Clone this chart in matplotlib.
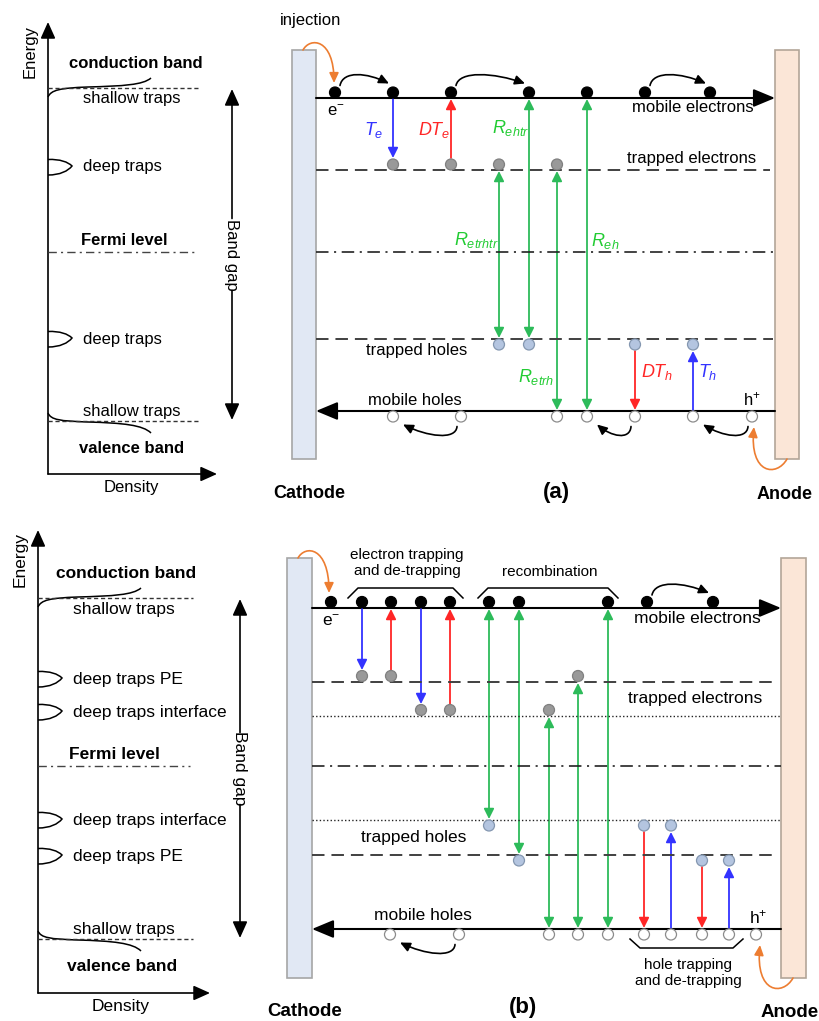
import matplotlib.pyplot as plt
from matplotlib.patches import Rectangle, Circle, FancyArrowPatch, PathPatch
from matplotlib.path import Path

plt.rcParams['font.family'] = ['Liberation Sans', 'DejaVu Sans']
plt.rcParams['mathtext.fontset'] = 'custom'
plt.rcParams['mathtext.rm'] = 'Liberation Sans'
plt.rcParams['mathtext.it'] = 'Liberation Sans:italic'
plt.rcParams['lines.scale_dashes'] = False

BLUE = '#3333ff'
RED = '#ff2626'
GREEN = '#2dbb5a'
GREEN_TXT = '#22cc33'
ORANGE = '#ed7d31'
R = 5.5  # particle radius (px)

# ---------------- panel (a) data ----------------
a_dos = dict(ax0=48, top=22, bottom=474, right=217, cb=88, vb=421, fermi=252,
             line_end=198, gap_x=232, fs=12,
             deep=[(167, 'deep traps'), (339, 'deep traps')])
a_levels = {'cb': 98, 'te': 170, 'fermi': 252, 'th': 339, 'vb': 411}
a_sides = {'cb': 'above', 'te': 'above', 'th': 'below', 'vb': 'below'}
a_electrons = [335, 393, 451, 529, 587, 645, 710]
a_trapped_e = [393, 451, 499, 557]
a_trapped_h = [499, 529, 635, 693]
a_holes = [393, 461, 557, 587, 635, 693, 752]
a_e_hops = [(335, 393), (451, 529), (645, 710)]
a_h_hops = [(461, 393), (635, 587), (752, 693)]
# x, from level, to level, colour, both heads
a_transitions = [
    (393, 'cb', 'te', BLUE, False),
    (451, 'te', 'cb', RED, False),
    (499, 'te', 'th', GREEN, True),
    (529, 'cb', 'th', GREEN, True),
    (557, 'te', 'vb', GREEN, True),
    (587, 'cb', 'vb', GREEN, True),
    (635, 'th', 'vb', RED, False),
    (693, 'vb', 'th', BLUE, False),
]
a_rate_labels = [
    (r'$T_{e}$', 374, 130, BLUE), (r'$DT_{e}$', 434, 130, RED),
    (r'$R_{ehtr}$', 511, 128, GREEN_TXT), (r'$R_{etrhtr}$', 476, 240, GREEN_TXT),
    (r'$R_{eh}$', 605, 241, GREEN_TXT), (r'$R_{etrh}$', 536, 377, GREEN_TXT),
    (r'$DT_{h}$', 657, 372, RED), (r'$T_{h}$', 708, 372, BLUE),
]
a_dev = dict(cath=(292, 316), anode=(775, 799), top=50, bottom=459)

# ---------------- panel (b) data ----------------
b_dos = dict(ax0=38, top=530, bottom=993, right=210, cb=598, vb=939, fermi=766,
             line_end=193, gap_x=240, fs=12.5,
             deep=[(679, 'deep traps PE'), (712, 'deep traps interface'),
                   (820, 'deep traps interface'), (856, 'deep traps PE')])
b_levels = {'cb': 608, 'te_pe': 682, 'te_if': 716, 'fermi': 766,
            'th_if': 820, 'th_pe': 855, 'vb': 929}
b_sides = {'cb': 'above', 'te_pe': 'above', 'te_if': 'above',
           'th_if': 'below', 'th_pe': 'below', 'vb': 'below'}
b_electrons = [331, 362, 391, 421, 450, 489, 519, 608, 647, 713]
b_trapped_e_pe = [362, 391, 578]
b_trapped_e_if = [421, 450, 549]
b_trapped_h_if = [489, 644, 671]
b_trapped_h_pe = [519, 702, 729]
b_holes = [390, 459, 549, 578, 608, 644, 671, 702, 729, 756]
b_e_hops = [(647, 713)]
b_h_hops = [(459, 390)]
b_transitions = [
    (362, 'cb', 'te_pe', BLUE, False),
    (391, 'te_pe', 'cb', RED, False),
    (421, 'cb', 'te_if', BLUE, False),
    (450, 'te_if', 'cb', RED, False),
    (489, 'cb', 'th_if', GREEN, True),
    (519, 'cb', 'th_pe', GREEN, True),
    (549, 'te_if', 'vb', GREEN, True),
    (578, 'te_pe', 'vb', GREEN, True),
    (608, 'cb', 'vb', GREEN, True),
    (644, 'th_if', 'vb', RED, False),
    (671, 'vb', 'th_if', BLUE, False),
    (702, 'th_pe', 'vb', RED, False),
    (729, 'vb', 'th_pe', BLUE, False),
]
# left, right, side, label, label x, label y
b_brackets = [
    (348, 463, 'top', 'electron trapping\nand de-trapping', 407, 563),
    (478, 618, 'top', 'recombination', 550, 572),
    (630, 743, 'bottom', 'hole trapping\nand de-trapping', 688, 973),
]
b_dev = dict(cath=(287, 312), anode=(781, 806), top=558, bottom=978)

fig = plt.figure(figsize=(8.19, 10.21), dpi=100)
ax = fig.add_axes([0, 0, 1, 1])
ax.set_xlim(0, 819)
ax.set_ylim(1021, 0)
ax.axis('off')


def arrow(p0, p1, color='black', lw=1.2, both=False, hl=0.6, hw=0.3, ms=10):
    style = ('<|-|>' if both else '-|>') + f',head_length={hl},head_width={hw}'
    ax.add_patch(FancyArrowPatch(p0, p1, arrowstyle=style, mutation_scale=ms,
                                 color=color, lw=lw, shrinkA=0, shrinkB=0))


def curve_arrow(pts, color='black', lw=1.2):
    path = Path(pts, [Path.MOVETO, Path.CURVE4, Path.CURVE4, Path.CURVE4])
    ax.add_patch(FancyArrowPatch(path=path, arrowstyle='-|>,head_length=0.6,head_width=0.28',
                                 mutation_scale=10, color=color, lw=lw))


def bezier(pts, lw=1.1, color='black'):
    codes = [Path.MOVETO] + [Path.CURVE4] * (len(pts) - 1)
    ax.add_patch(PathPatch(Path(pts, codes), fc='none', ec=color, lw=lw))


def dos_panel(d):
    x0, cb, vb, fs = d['ax0'], d['cb'], d['vb'], d['fs']
    arrow((x0, d['bottom']), (x0, d['top']), lw=1.2, hl=1.0, hw=0.45)
    arrow((x0, d['bottom']), (d['right'], d['bottom']), lw=1.2, hl=1.0, hw=0.45)
    ax.plot([x0, d['line_end']], [cb, cb], color='#333333', lw=1.0, ls=(0, (3, 2)))
    ax.plot([x0, d['line_end']], [vb, vb], color='#333333', lw=1.0, ls=(0, (3, 2)))
    ax.plot([x0, d['line_end'] - 3], [d['fermi'], d['fermi']], color='#444444', lw=1.0,
            ls=(0, (6, 3, 1.5, 3)))
    # shallow trap tails
    bezier([(x0, cb + 9), (x0 + 3, cb + 2), (x0 + 12, cb), (x0 + 40, cb - 1),
            (x0 + 75, cb - 2), (x0 + 95, cb - 3), (x0 + 103, cb - 10)])
    bezier([(x0, vb - 8), (x0 + 3, vb - 1), (x0 + 12, vb), (x0 + 40, vb + 1),
            (x0 + 75, vb + 2), (x0 + 95, vb + 4), (x0 + 103, vb + 12)])
    for y, lab in d['deep']:
        bezier([(x0, y - 7.5), (x0 + 12, y - 8), (x0 + 20, y - 5), (x0 + 24, y - 1),
                (x0 + 20, y + 4), (x0 + 12, y + 8), (x0, y + 8)])
        ax.text(x0 + 35, y, lab, fontsize=fs, ha='left', va='center')
    ax.text(x0 + 88, cb - 25, 'conduction band', fontsize=fs, weight='bold', ha='center', va='center')
    ax.text(x0 + 35, cb + 11, 'shallow traps', fontsize=fs, ha='left', va='center')
    ax.text(x0 + 76, d['fermi'] - 12, 'Fermi level', fontsize=fs, weight='bold', ha='center', va='center')
    ax.text(x0 + 35, vb - 10, 'shallow traps', fontsize=fs, ha='left', va='center')
    ax.text(x0 + 84, vb + 27, 'valence band', fontsize=fs, weight='bold', ha='center', va='center')
    ax.text(x0 - 18, d['top'] + 29, 'Energy', fontsize=fs, rotation=90, ha='center', va='center')
    ax.text(x0 + 83, d['bottom'] + 13, 'Density', fontsize=fs, ha='center', va='center')
    # band gap arrow
    gx, mid = d['gap_x'], (cb + vb) / 2
    arrow((gx, mid - 36), (gx, cb + 1), lw=1.2, hl=1.0, hw=0.45)
    arrow((gx, mid + 36), (gx, vb - 1), lw=1.2, hl=1.0, hw=0.45)
    ax.text(gx, mid, 'Band gap', fontsize=fs, rotation=-90, ha='center', va='center')


def particles(xs, y, kind):
    styles = {'e': ('black', 'black'), 'te': ('#999999', '#808080'),
              'th': ('#b4c5e0', '#8497b0'), 'h': ('white', '#8c8c8c')}
    fc, ec = styles[kind]
    for x in xs:
        ax.add_patch(Circle((x, y), R, fc=fc, ec=ec, lw=0.9, zorder=4))


def endpoint(levels, sides, name, body_above):
    y = levels[name]
    if sides[name] == 'above':
        return y - 2 * R - 1 if body_above else y + 1
    return y - 1 if body_above else y + 2 * R + 1


def transitions(levels, sides, trans):
    for x, a, b, col, both in trans:
        if levels[a] < levels[b]:
            y0, y1 = endpoint(levels, sides, a, False), endpoint(levels, sides, b, True)
        else:
            y0, y1 = endpoint(levels, sides, a, True), endpoint(levels, sides, b, False)
        arrow((x, y0), (x, y1), color=col, lw=1.3, both=both)


def device(dev, levels, fs):
    cx0, cx1 = dev['cath']
    ax0_, ax1_ = dev['anode']
    ax.add_patch(Rectangle((cx0, dev['top']), cx1 - cx0, dev['bottom'] - dev['top'],
                           fc='#e1e8f4', ec='#a6a6a6', lw=1.2, zorder=1))
    ax.add_patch(Rectangle((ax0_, dev['top']), ax1_ - ax0_, dev['bottom'] - dev['top'],
                           fc='#fbe6d7', ec='#b3a698', lw=1.2, zorder=1))
    cb, vb = levels['cb'], levels['vb']
    arrow((cx1, cb), (ax0_, cb), lw=1.5, hl=1.2, hw=0.5, ms=11)
    arrow((ax0_, vb), (cx1, vb), lw=1.5, hl=1.2, hw=0.5, ms=11)
    ax.plot([cx1, ax0_], [levels['fermi']] * 2, color='#222222', lw=1.2,
            ls=(0, (9, 4, 1.5, 4)))
    # injection arcs
    y0 = dev['top']
    curve_arrow([(cx0 + 11, y0), (cx0 + 18, y0 - 13), (cx0 + 42, y0 - 12), (cx0 + 42, cb - 15)], ORANGE)
    yb = dev['bottom']
    curve_arrow([(ax0_ + 12, yb), (ax0_ + 2, yb + 18), (ax0_ - 26, yb + 16), (ax0_ - 21, vb + 16)], ORANGE)
    ax.text(cx0 + 44, cb + 13, r'e$^{-}$', fontsize=fs, ha='center', va='center')
    ax.text(ax0_ - 23, vb - 12, r'h$^{+}$', fontsize=fs, ha='center', va='center')


def e_hops(hops, y):
    for x0, x1 in hops:
        dx = x1 - x0
        curve_arrow([(x0 + 5, y - 7), (x0 + 8, y - 22), (x0 + 0.55 * dx, y - 20), (x1 - 4, y - 9)])


def h_hops(hops, y):
    for x0, x1 in hops:
        dx = x0 - x1
        curve_arrow([(x0 - 4, y + 10), (x0 - 5, y + 24), (x0 - 0.5 * dx, y + 20), (x1 + 10, y + 8)])


def dline(y, x0, x1, kind):
    if kind == 'dash':
        ax.plot([x0, x1], [y, y], color='#404040', lw=1.4, ls=(0, (9, 5)))
    else:
        ax.plot([x0, x1], [y, y], color='#222222', lw=1.0, ls=(0, (1, 1.6)))


# ---------------- draw panel (a) ----------------
dos_panel(a_dos)
device(a_dev, a_levels, 12)
L = a_levels
dline(L['te'], 316, 770, 'dash')
dline(L['th'], 316, 773, 'dash')
transitions(a_levels, a_sides, a_transitions)
particles(a_electrons, L['cb'] - R, 'e')
particles(a_trapped_e, L['te'] - R, 'te')
particles(a_trapped_h, L['th'] + R, 'th')
particles(a_holes, L['vb'] + R, 'h')
e_hops(a_e_hops, L['cb'] - R)
h_hops(a_h_hops, L['vb'] + R)
for txt, x, y, c in a_rate_labels:
    ax.text(x, y, txt, fontsize=13, color=c, ha='center', va='center')
ax.text(311, 21, 'injection', fontsize=12, ha='center', va='center')
ax.text(693, 108, 'mobile electrons', fontsize=12, ha='center', va='center')
ax.text(692, 158, 'trapped electrons', fontsize=12, ha='center', va='center')
ax.text(417, 350, 'trapped holes', fontsize=12, ha='center', va='center')
ax.text(415, 400, 'mobile holes', fontsize=12, ha='center', va='center')
ax.text(309, 493, 'Cathode', fontsize=13, weight='bold', ha='center', va='center')
ax.text(556, 492, '(a)', fontsize=16, weight='bold', ha='center', va='center')
ax.text(785, 494, 'Anode', fontsize=13, weight='bold', ha='center', va='center')

# ---------------- draw panel (b) ----------------
dos_panel(b_dos)
device(b_dev, b_levels, 12.5)
L = b_levels
dline(L['te_pe'], 312, 776, 'dash')
dline(L['te_if'], 312, 781, 'dot')
dline(L['th_if'], 312, 781, 'dot')
dline(L['th_pe'], 312, 777, 'dash')
transitions(b_levels, b_sides, b_transitions)
particles(b_electrons, L['cb'] - R - 0.5, 'e')
particles(b_trapped_e_pe, L['te_pe'] - R - 0.5, 'te')
particles(b_trapped_e_if, L['te_if'] - R - 0.5, 'te')
particles(b_trapped_h_if, L['th_if'] + R, 'th')
particles(b_trapped_h_pe, L['th_pe'] + R, 'th')
particles(b_holes, L['vb'] + R, 'h')
e_hops(b_e_hops, L['cb'] - R - 0.5)
h_hops(b_h_hops, L['vb'] + R)
for xl, xr, side, lab, tx, ty in b_brackets:
    if side == 'top':
        yb, yt = L['cb'] - 10, L['cb'] - 20
    else:
        yb, yt = L['vb'] + 10, L['vb'] + 19
    ax.plot([xl, xl + 10, xr - 10, xr], [yb, yt, yt, yb], color='black', lw=1.1)
    ax.text(tx, ty, lab, fontsize=11, ha='center', va='center', linespacing=1.15)
ax.text(697, 618, 'mobile electrons', fontsize=12.5, ha='center', va='center')
ax.text(695, 698, 'trapped electrons', fontsize=12.5, ha='center', va='center')
ax.text(414, 837, 'trapped holes', fontsize=12.5, ha='center', va='center')
ax.text(423, 915, 'mobile holes', fontsize=12.5, ha='center', va='center')
ax.text(305, 1011, 'Cathode', fontsize=13.5, weight='bold', ha='center', va='center')
ax.text(523, 1007, '(b)', fontsize=16, weight='bold', ha='center', va='center')
ax.text(790, 1012, 'Anode', fontsize=13.5, weight='bold', ha='center', va='center')

fig.savefig('out.png', dpi=100)
